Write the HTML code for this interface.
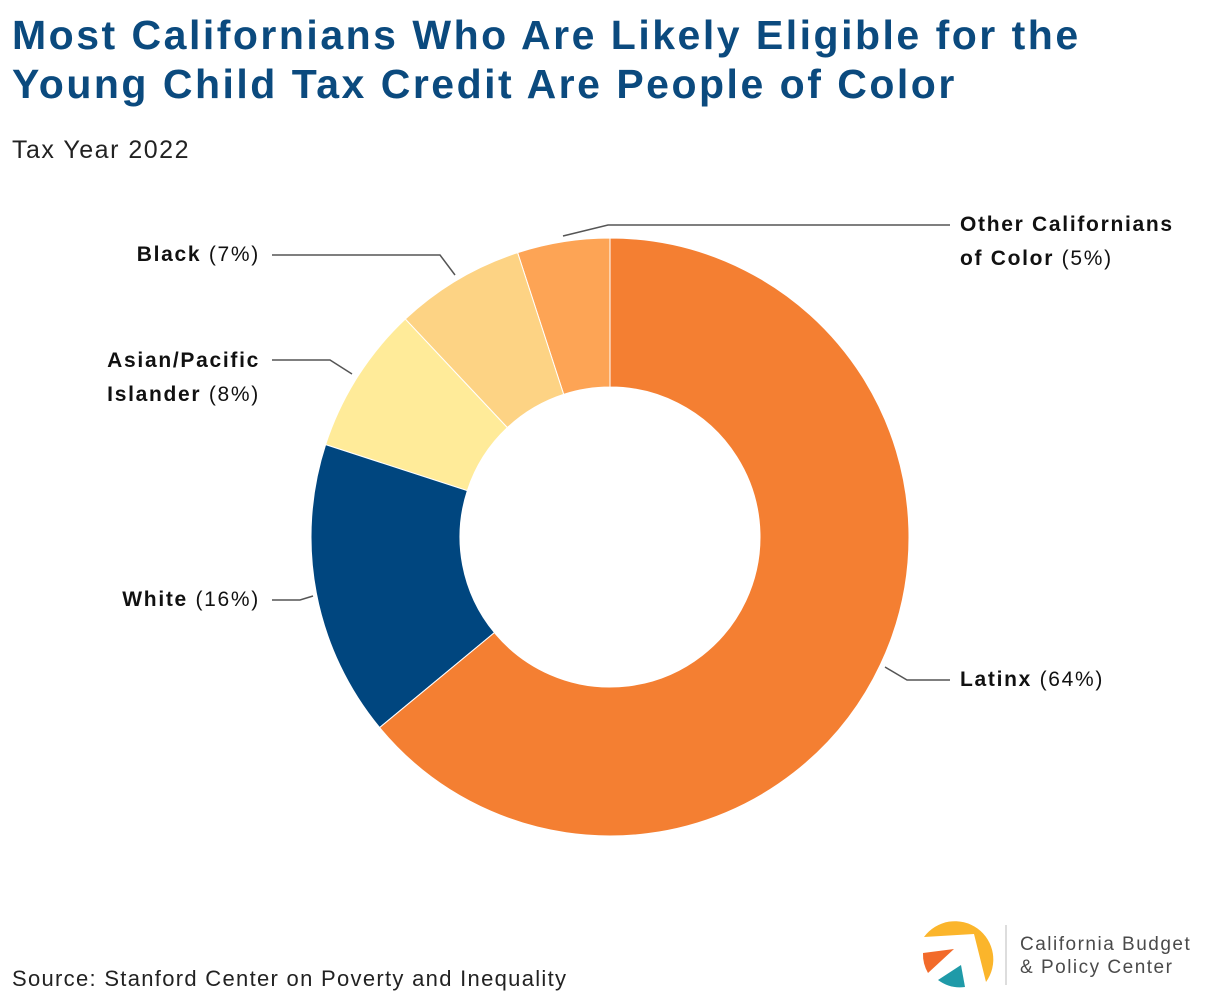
<!DOCTYPE html>
<html><head><meta charset="utf-8"><style>
body{margin:0;width:1220px;height:1008px;background:#fff;font-family:"Liberation Sans",sans-serif;overflow:hidden;position:relative}
.t{position:absolute;left:12px;top:11px;font-size:41px;font-weight:bold;color:#0b4a7e;line-height:49px;letter-spacing:2.5px;white-space:nowrap}
.sub{position:absolute;left:12px;top:136px;font-size:25px;color:#222;letter-spacing:1.5px}
.src{position:absolute;left:12px;top:966px;font-size:22px;color:#222;letter-spacing:1.3px}
.lab{position:absolute;font-size:21px;color:#111;line-height:34px;letter-spacing:1.7px;white-space:nowrap}
.lab b{font-weight:bold}
</style></head><body>
<div class="t">Most Californians Who Are Likely Eligible for the<br>Young Child Tax Credit Are People of Color</div>
<div class="sub">Tax Year 2022</div>
<svg id="c" width="1220" height="1008" style="position:absolute;left:0;top:0">
<g fill="none" stroke="#555" stroke-width="1.5">
<polyline points="885,667 907,680 950,680"/>
<polyline points="313,596 300,600 272,600"/>
<polyline points="352,374 330,360 272,360"/>
<polyline points="455,275 440,255 272,255"/>
<polyline points="563,236 608,225 950,225"/>
</g>
</svg>
<div class="lab" style="left:960px;top:663px"><b>Latinx</b> (64%)</div>
<div class="lab" style="right:960px;top:583px;text-align:right"><b>White</b> (16%)</div>
<div class="lab" style="right:960px;top:344px;text-align:right"><b>Asian/Pacific</b><br><b>Islander</b> (8%)</div>
<div class="lab" style="right:960px;top:238px;text-align:right"><b>Black</b> (7%)</div>
<div class="lab" style="left:960px;top:208px"><b>Other Californians</b><br><b>of Color</b> (5%)</div>
<div class="src">Source: Stanford Center on Poverty and Inequality</div>
<svg width="300" height="90" style="position:absolute;left:910px;top:910px">
<path d="M14,27 A37,37 0 1 1 76,72 L64,24 Z" fill="#fbb52b"/>
<path d="M44,39 L13,43 A37,37 0 0 0 18,63 Z" fill="#f26a2a"/>
<path d="M51,55 L28,70 A37,37 0 0 0 55,77 Z" fill="#1f9aa8"/>
<line x1="96" y1="15" x2="96" y2="75" stroke="#bbb" stroke-width="1"/>
<text x="110" y="40" font-size="19" fill="#4a4a4a" letter-spacing="1.5" font-family="Liberation Sans,sans-serif">California Budget</text>
<text x="110" y="63" font-size="19" fill="#4a4a4a" letter-spacing="1.5" font-family="Liberation Sans,sans-serif">&amp; Policy Center</text>
</svg>
<script>
const categories=["Latinx","White","Asian/Pacific Islander","Black","Other Californians of Color"];
const values=[64,16,8,7,5];
const colors=["#f47f32","#00467f","#ffeb99","#fdd384","#fda455"];
const svg=document.getElementById('c');
const cx=610,cy=537,R=299,r=150;
const total=values.reduce((a,b)=>a+b,0);
function pt(a,rad){return [cx+rad*Math.sin(a),cy-rad*Math.cos(a)];}
let acc=0;
values.forEach((v,i)=>{
const a0=acc/total*2*Math.PI;acc+=v;const a1=acc/total*2*Math.PI;
const big=(a1-a0)>Math.PI?1:0;
const p0=pt(a0,R),p1=pt(a1,R),q1=pt(a1,r),q0=pt(a0,r);
const p=document.createElementNS('http://www.w3.org/2000/svg','path');
p.setAttribute('d',`M${p0[0]},${p0[1]} A${R},${R} 0 ${big} 1 ${p1[0]},${p1[1]} L${q1[0]},${q1[1]} A${r},${r} 0 ${big} 0 ${q0[0]},${q0[1]} Z`);
p.setAttribute('fill',colors[i]);p.setAttribute('stroke','#fff');p.setAttribute('stroke-width','1');


svg.insertBefore(p,svg.firstChild);
});
</script>
</body></html>
